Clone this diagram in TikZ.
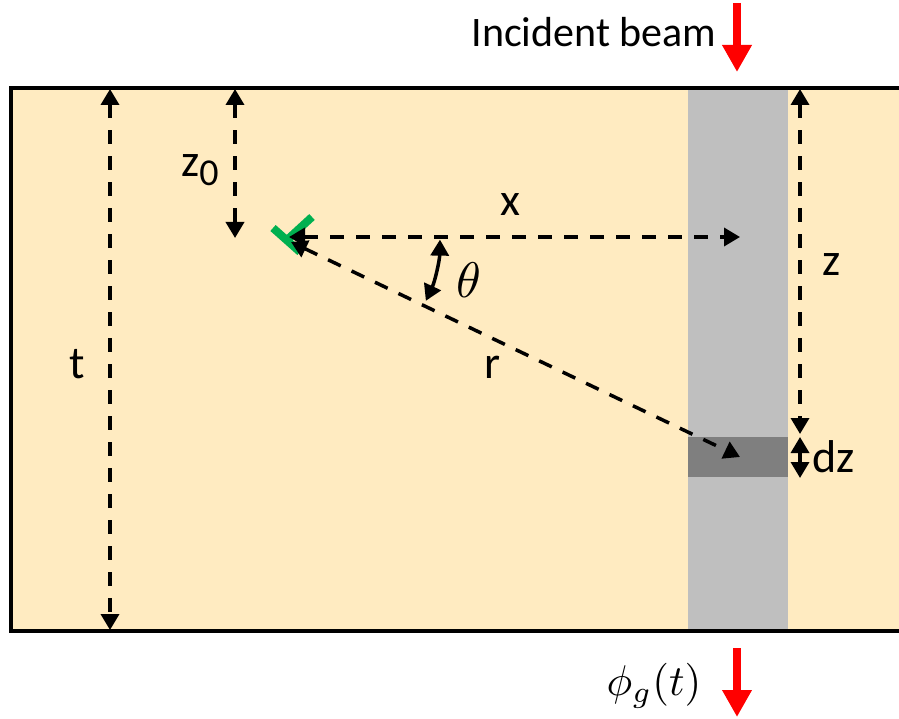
\documentclass[tikz,border=0pt]{standalone}
\usepackage{graphicx}
\usepackage{fontspec}
\setmainfont{Carlito}
\usetikzlibrary{arrows.meta}
\definecolor{slab}{RGB}{255,235,193}
\definecolor{beamgray}{RGB}{191,191,191}
\definecolor{bandgray}{RGB}{127,127,127}
\definecolor{disloc}{RGB}{0,176,80}
\definecolor{beamred}{RGB}{255,0,0}
\tikzset{
  tip/.tip={Triangle[width=18pt,length=16pt]},
  dimline/.style={line width=3.5pt, dash pattern=on 14pt off 12pt, tip-tip},
  solidline/.style={line width=3.5pt, tip-tip},
  lbl/.style={font=\fontsize{46}{50}\selectfont, inner sep=0pt},
  redarrow/.style={line width=8pt, beamred, -{Triangle[width=28pt,length=27pt]}},
}
\begin{document}
\begin{tikzpicture}[x=1pt,y=-1pt]
\useasboundingbox (0,0) rectangle (899,719);
% slab
\fill[slab] (11,88) rectangle (899,631);
\fill[beamgray] (688,88) rectangle (788,631);
\fill[bandgray] (688,437) rectangle (788,477);
\draw[line width=3.5pt] (899,88) -- (11,88) -- (11,631) -- (899,631);
% coordinates
\coordinate (tTop) at (110,89);
\coordinate (tBot) at (110,630);
\coordinate (zoTop) at (235,89);
\coordinate (zoBot) at (235,238);
\coordinate (D) at (289,237);
\coordinate (Dr) at (291,242);
\coordinate (xEnd) at (740,237);
\coordinate (rEnd) at (740,457);
\coordinate (zTop) at (800,89);
\coordinate (zBot) at (800,434);
\coordinate (dzTop) at (800,437);
\coordinate (dzBot) at (800,478);
% dislocation symbol
\draw[disloc, line width=8pt] (273,228) -- (300,252);
\draw[disloc, line width=8pt] (288,239) -- (312,217);
% dimension arrows
\draw[dimline] (tTop) -- (tBot);
\draw[dimline] (zoTop) -- (zoBot);
\draw[dimline] (D) -- (xEnd);
\draw[dimline] (Dr) -- (rEnd);
\draw[dimline] (zTop) -- (zBot);
\draw[solidline] (dzTop) -- (dzBot);
\draw[line width=3.5pt, tip-tip] (D) ++(1:151) arc[start angle=1, end angle=25, radius=151];
% labels
\node[lbl] (lt) at (77,364) {t};
\node[lbl] (lz0) at (200,170) {z\raisebox{-9pt}{\fontsize{38}{40}\selectfont 0}};
\node[lbl] (lx) at (510,205) {x};
\node[inner sep=0pt] (lth) at (469,280) {\scalebox{5}{$\theta$}};
\node[lbl] (lr) at (493,367) {r};
\node[lbl] (lz) at (832,265) {z};
\node[lbl] (ldz) at (834,457) {dz};
\node[font=\fontsize{42}{46}\selectfont, inner sep=0pt] (lib) at (594,32) {Incident beam};
\node[inner sep=0pt] (lphi) at (654,686) {\scalebox{4.3}{$\phi_g(t)$}};
% red beam arrows
\coordinate (inA) at (737,3);
\coordinate (inB) at (737,72);
\coordinate (outA) at (737,648);
\coordinate (outB) at (737,717);
\draw[redarrow] (inA) -- (inB);
\draw[redarrow] (outA) -- (outB);
\end{tikzpicture}
\end{document}
